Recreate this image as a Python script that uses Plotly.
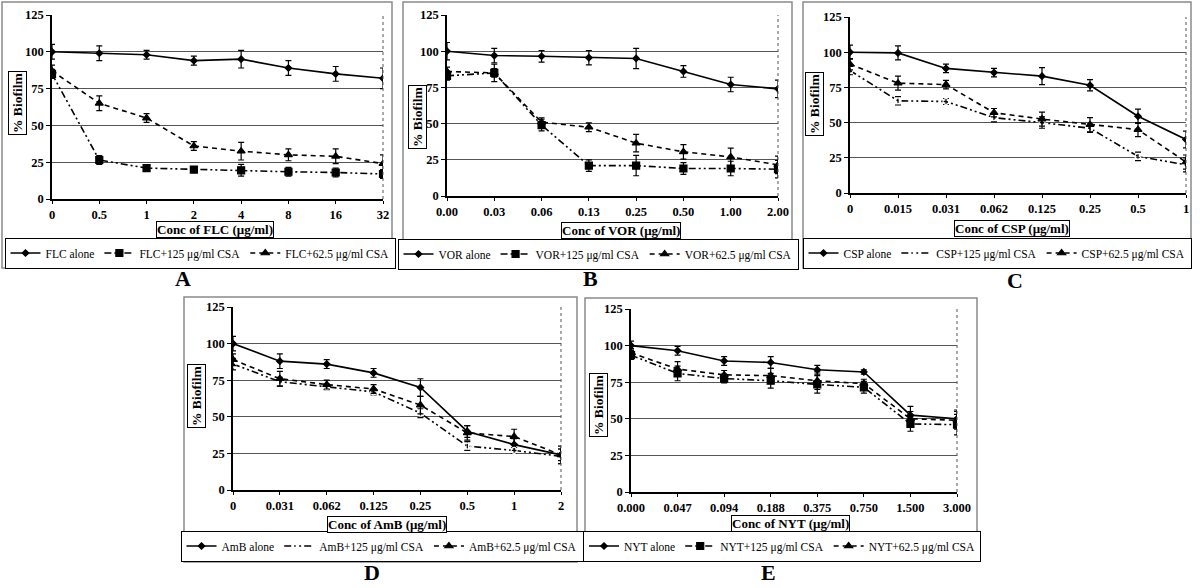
import plotly.graph_objects as go

W, H = 1200, 588
FONT = "Liberation Serif"

# ---------------- data ----------------
cat_A = ["0", "0.5", "1", "2", "4", "8", "16", "32"]
A_alone = [100, 99, 98, 94, 95, 89, 85, 82]
A_alone_err = [5, 5, 3, 3, 6, 5, 5, 7]
A_125 = [85, 26.5, 21, 20, 19.5, 18.5, 18, 17]
A_125_err = [3, 3, 1.5, 1.5, 4, 3, 3, 3]
A_625 = [87, 65, 55, 36, 32.5, 30, 29, 24]
A_625_err = [4, 5, 3, 3, 6, 4, 5, 6]

cat_B = ["0.00", "0.03", "0.06", "0.13", "0.25", "0.50", "1.00", "2.00"]
B_alone = [100, 97, 96.5, 95.5, 95, 86, 77, 74]
B_alone_err = [6, 5, 4, 5, 7, 4, 5, 6]
B_125 = [83, 85, 49, 21, 21, 19, 19, 18.5]
B_125_err = [3, 3, 4, 4, 7, 4, 5, 6]
B_625 = [86, 85, 51, 47.5, 36.5, 30.5, 27, 21.5]
B_625_err = [3, 6, 3, 3, 6, 5, 6, 6]

cat_C = ["0", "0.015", "0.031", "0.062", "0.125", "0.25", "0.5", "1"]
C_alone = [100, 99.5, 88.5, 85.5, 83, 76.5, 54.5, 38]
C_alone_err = [5, 5, 3, 3, 6, 4, 5, 6]
C_125 = [87, 65.5, 65, 53.5, 50, 46, 26, 20]
C_125_err = [3, 3, 2, 3, 4, 3, 3, 5]
C_625 = [91.5, 78, 77, 57, 52.5, 48.5, 45, 22]
C_625_err = [4, 5, 3, 3, 5, 5, 5, 5]

cat_D = ["0", "0.031", "0.062", "0.125", "0.25", "0.5", "1", "2"]
D_alone = [100, 88, 86, 80, 70, 40, 31, 24]
D_alone_err = [5, 5, 3, 3, 6, 4, 4, 4]
D_125 = [86, 74, 70.5, 67, 52.5, 30, 27, 23]
D_125_err = [4, 3, 2, 2, 3, 3, 2, 5]
D_625 = [89, 76, 72, 69, 58, 39, 36.5, 24]
D_625_err = [4, 5, 3, 3, 6, 5, 5, 6]

cat_E = ["0.000", "0.047", "0.094", "0.188", "0.375", "0.750", "1.500", "3.000"]
E_alone = [100, 96.5, 89.5, 88.5, 83.5, 82, 52.5, 50]
E_alone_err = [3, 3, 3, 4, 3, 1.5, 6, 6]
E_125 = [93.5, 81, 77.5, 76, 73.5, 71.5, 46.5, 46]
E_125_err = [3, 5, 3, 5, 6, 4, 5, 7]
E_625 = [95, 84, 80, 79.5, 76, 74, 50, 49]
E_625_err = [3, 5, 3, 5, 6, 3, 5, 6]

drugs = ["FLC", "VOR", "CSP", "AmB", "NYT"]
letters = ["A", "B", "C", "D", "E"]
y_ticks = [0, 25, 50, 75, 100, 125]

# ---------------- layout geometry (pixels) ----------------
def px(x):
    return x / W

def py(y):
    return 1 - y / H

panels = [
    dict(cats=cat_A, s=[(A_alone, A_alone_err), (A_125, A_125_err), (A_625, A_625_err)],
         plot=(52, 383, 15, 199), box=(2, 392, 2, 268), ytitle=(17, 103), xtitle=(215, 229),
         legend=(200, 253), label=(183, 278), m125="square"),
    dict(cats=cat_B, s=[(B_alone, B_alone_err), (B_125, B_125_err), (B_625, B_625_err)],
         plot=(447, 778, 15, 196), box=(403, 792, 2, 268), ytitle=(417, 117), xtitle=(621, 231),
         legend=(598, 254), label=(590, 278), m125="square"),
    dict(cats=cat_C, s=[(C_alone, C_alone_err), (C_125, C_125_err), (C_625, C_625_err)],
         plot=(850, 1186, 17, 193), box=(803, 1191, 2, 268), ytitle=(815, 104), xtitle=(1012, 228),
         legend=(997, 253), label=(1015, 280), m125="circle-open"),
    dict(cats=cat_D, s=[(D_alone, D_alone_err), (D_125, D_125_err), (D_625, D_625_err)],
         plot=(233, 561, 307, 490), box=(184, 577, 297, 562), ytitle=(196, 396), xtitle=(387, 524),
         legend=(382, 546), label=(372, 572), m125="circle-open"),
    dict(cats=cat_E, s=[(E_alone, E_alone_err), (E_125, E_125_err), (E_625, E_625_err)],
         plot=(631, 957, 309, 492), box=(585, 977, 298, 561), ytitle=(598, 405), xtitle=(790, 523),
         legend=(782, 546), label=(768, 572), m125="square"),
]

fig = go.Figure()
layout = dict(width=W, height=H, margin=dict(l=0, r=0, t=0, b=0, autoexpand=False),
              paper_bgcolor="white", plot_bgcolor="white",
              font=dict(family=FONT, color="black"), shapes=[], annotations=[])

tickfont = dict(family=FONT, size=12.5, color="black", weight="bold")

for i, p in enumerate(panels):
    n = "" if i == 0 else str(i + 1)
    xa, ya = "x" + n, "y" + n
    leg = "legend" + n
    drug = drugs[i]
    names = [f"{drug} alone", f"{drug}+125 μg/ml CSA", f"{drug}+62.5 μg/ml CSA"]
    dashes = ["solid", "7px,3px,2px,3px,2px,3px", "5px,4px"]
    symbols = ["diamond", p["m125"], "triangle-up"]
    msizes = [5, 6 if p["m125"] == "circle-open" else 7, 7]
    for (vals, err), name, dash, sym, ms in zip(p["s"], names, dashes, symbols, msizes):
        fig.add_trace(go.Scatter(
            x=p["cats"], y=vals, name=name, mode="lines+markers",
            xaxis=xa, yaxis=ya, legend=leg,
            line=dict(color="black", width=1.6, dash=dash),
            marker=dict(symbol=sym, size=ms, color="black" if sym != "circle-open" else "white",
                        line=dict(color="black", width=1.2)),
            error_y=dict(type="data", array=err, visible=True, color="black", thickness=1.2, width=3),
        ))
    x0, x1, y0, y1 = p["plot"]
    layout["xaxis" + n] = dict(domain=[px(x0), px(x1)], anchor=ya, type="category",
                               range=[0, len(p["cats"]) - 1], showline=True, linecolor="black",
                               linewidth=1.5, ticks="outside", ticklen=3, tickcolor="black",
                               showgrid=False, zeroline=False, tickfont=tickfont, fixedrange=True)
    layout["yaxis" + n] = dict(domain=[py(y1), py(y0)], anchor=xa, range=[0, 125],
                               tickvals=y_ticks, showline=True, linecolor="black", linewidth=1.5,
                               ticks="outside", ticklen=4, tickcolor="black",
                               showgrid=True, gridcolor="#555555", gridwidth=1,
                               zeroline=False, tickfont=tickfont, fixedrange=True)
    # dotted right edge
    layout["shapes"].append(dict(type="line", xref=xa + " domain", yref=ya + " domain",
                                 x0=1, x1=1, y0=0, y1=1,
                                 line=dict(color="#555555", width=1, dash="dot")))
    # panel outer box
    bx0, bx1, by0, by1 = p["box"]
    layout["shapes"].append(dict(type="rect", xref="paper", yref="paper",
                                 x0=px(bx0), x1=px(bx1), y0=py(by1), y1=py(by0),
                                 line=dict(color="#8a8a8a", width=1.5), layer="below"))
    # y title box
    layout["annotations"].append(dict(text="% Biofilm", xref="paper", yref="paper",
                                      x=px(p["ytitle"][0]), y=py(p["ytitle"][1]),
                                      xanchor="center", yanchor="middle", textangle=-90,
                                      showarrow=False, bordercolor="black", borderwidth=1,
                                      borderpad=1, bgcolor="white",
                                      font=dict(family=FONT, size=13.5, weight="bold")))
    # x title box
    layout["annotations"].append(dict(text=f"Conc of {drug} (μg/ml)", xref="paper", yref="paper",
                                      x=px(p["xtitle"][0]), y=py(p["xtitle"][1]),
                                      xanchor="center", yanchor="middle",
                                      showarrow=False, bordercolor="black", borderwidth=1,
                                      borderpad=0, bgcolor="white",
                                      font=dict(family=FONT, size=13, weight="bold")))
    # panel label
    layout["annotations"].append(dict(text=letters[i], xref="paper", yref="paper",
                                      x=px(p["label"][0]), y=py(p["label"][1]),
                                      xanchor="center", yanchor="middle", showarrow=False,
                                      font=dict(family=FONT, size=22, weight="bold")))
    # legend
    layout[leg] = dict(orientation="h", x=px(p["legend"][0]), y=py(p["legend"][1]),
                       xanchor="center", yanchor="middle", bordercolor="black", borderwidth=1,
                       bgcolor="white", font=dict(family=FONT, size=11.5, color="black"),
                       itemwidth=30, tracegroupgap=0)

fig.update_layout(**layout)
fig.write_html("out.html", config={"displayModeBar": False},
               post_script="document.body.style.margin='0';document.body.style.padding='0';")
